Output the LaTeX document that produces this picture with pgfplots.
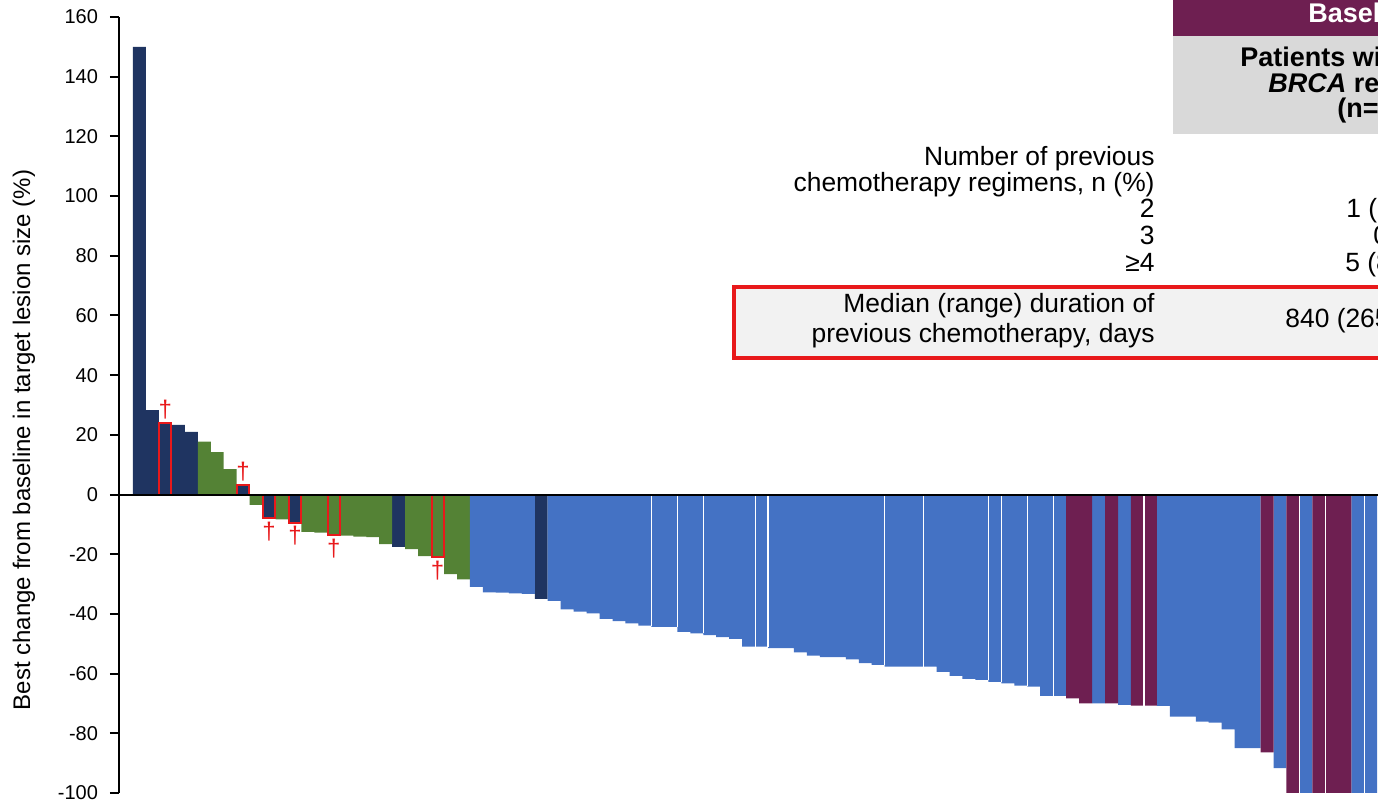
\documentclass[border=0pt]{standalone}
\usepackage{pgfplots}
\pgfplotsset{compat=1.18}
\usepackage{fontspec}
\setmainfont{Liberation Sans}
\definecolor{navy}{HTML}{1F3461}
\definecolor{grn}{HTML}{548235}
\definecolor{blu}{HTML}{4472C4}
\definecolor{pur}{HTML}{6E1F51}
\definecolor{red1}{HTML}{E8191B}
\definecolor{hgray}{HTML}{D9D9D9}
\definecolor{bgray}{HTML}{F2F2F2}
\begin{document}
\begin{tikzpicture}
\begin{axis}[
  scale only axis, width=629.5pt, height=388pt,
  xmin=-0.58, xmax=96.56, ymin=-100, ymax=160,
  axis x line=none, axis y line*=left, xtick=\empty,
  ytick={-100,-80,...,160},
  tick align=outside, major tick length=4.5pt,
  y axis line style={line width=1pt},
  ytick style={line width=1pt, black},
  yticklabel style={font=\fontsize{10}{12}\selectfont, xshift=-2.5pt},
  /pgf/number format/assume math mode=true,
  ylabel={Best change from baseline in target lesion size (\%)},
  every axis y label/.style={at={(axis description cs:-0.0755,0.455)}, rotate=90, anchor=center, font=\fontsize{12}{14}\selectfont},
  every node near coord/.append style={text=red1, font=\fontsize{12}{12}\selectfont, inner sep=1.5pt},
]
% navy
\addplot[ybar, bar width=1, bar shift=0pt, fill=navy, draw=none] coordinates {(1,150) (2,28.3) (4,23.3) (5,21) (21,-17.5) (32,-35)};
% green
\addplot[ybar, bar width=1, bar shift=0pt, fill=grn, draw=none] coordinates {(6,17.7) (7,14.2) (8,8.5) (10,-3.5) (12,-8.3) (14,-12.5) (15,-12.8) (17,-13.8) (18,-14.1) (19,-14.3) (20,-16.6) (22,-18.3) (23,-20.6) (25,-26.7) (26,-28.4)};
% blue
\addplot[ybar, bar width=1, bar shift=0pt, fill=blu, draw=none] coordinates {(27,-30.9) (28,-32.8) (29,-32.9) (30,-33.1) (31,-33.3) (33,-35.6) (34,-38.5) (35,-39.2) (36,-39.8) (37,-41.7) (38,-42.4) (39,-43.2) (40,-43.9) (41,-44.3) (42,-44.3) (43,-46) (44,-46.5) (45,-47.1) (46,-47.8) (47,-48.4) (48,-51.0) (49,-51.0) (50,-51.5) (51,-51.5) (52,-52.9) (53,-54) (54,-54.5) (55,-54.5) (56,-55.2) (57,-56.5) (58,-57.1) (59,-57.7) (60,-57.7) (61,-57.7) (62,-57.7) (63,-59.4) (64,-60.8) (65,-61.8) (66,-62.1) (67,-62.8) (68,-63.3) (69,-64) (70,-64.4) (71,-67.5) (72,-67.5) (75,-70) (77,-70.5) (80,-70.8) (81,-74.4) (82,-74.4) (83,-76.1) (84,-76.4) (85,-78.7) (86,-85) (87,-85) (89,-91.7) (91,-100) (95,-100) (96,-100)};
% purple
\addplot[ybar, bar width=1, bar shift=0pt, fill=pur, draw=none] coordinates {(73,-68.3) (74,-70) (76,-70) (78,-70.7) (79,-70.7) (88,-86.4) (90,-100) (92,-100) (93,-100) (94,-100)};
% outlined (red) bars with dagger
\addplot[ybar, bar width=0.92, bar shift=0pt, fill=navy, draw=red1, line width=1pt, nodes near coords={†}] coordinates {(3,24) (9,3.2) (11,-8) (13,-9.4)};
\addplot[ybar, bar width=0.92, bar shift=0pt, fill=grn, draw=red1, line width=1pt, nodes near coords={†}] coordinates {(16,-13.5) (24,-20.8)};
% thin white separators between some bars
\addplot[ycomb, white, line width=0.6pt, mark=none] coordinates {(40.5,-43.9) (42.5,-44.3) (44.5,-46.5) (48.5,-51) (49.5,-51) (58.5,-57.1) (61.5,-57.7) (66.5,-62.1) (67.5,-62.8) (69.5,-64) (71.5,-67.5) (78.5,-70.7) (90.5,-100) (92.5,-100) (95.5,-100)};
\draw[line width=1pt] (axis cs:-0.58,0) -- (axis cs:96.56,0);
\end{axis}
\begin{scope}[x=0.5pt, y=-0.5pt, shift={(-59.5pt,396.5pt)}]
\clip (0,0) rectangle (1378,803);
\fill[pur] (1173,0) rectangle (1420,36);
\fill[hgray] (1173,36) rectangle (1420,134);
\fill[bgray] (734,287) rectangle (1420,358);
\draw[red1, line width=1.75pt] (734,287) rectangle (1420,358);
\begin{scope}[every node/.style={font=\fontsize{13.2}{13.2}\selectfont, inner sep=0pt}]
\node[anchor=base east] at (1155,166) {Number of previous};
\node[anchor=base east] at (1155,192) {chemotherapy regimens, n (\%)};
\node[anchor=base east] at (1155,218) {2};
\node[anchor=base east] at (1155,245) {3};
\node[anchor=base east] at (1155,272) {≥4};
\node[anchor=base east] at (1155,313) {Median (range) duration of};
\node[anchor=base east] at (1155,343) {previous chemotherapy, days};
\node[anchor=base west] at (1346,218) {1 (17)};
\node[anchor=base west] at (1373,245) {0};
\node[anchor=base west] at (1345,272) {5 (83)};
\node[anchor=base west] at (1285,328) {840 (265};
\node[anchor=base west, text=white, font=\bfseries\fontsize{13.5}{13.5}\selectfont] at (1308,23) {Baseline characteristics};
\node[anchor=base west, font=\bfseries\fontsize{13.5}{13.5}\selectfont] at (1240,67) {Patients with};
\node[anchor=base west, font=\bfseries\fontsize{13.5}{13.5}\selectfont] at (1268,93) {\textit{BRCA} reversion};
\node[anchor=base west, font=\bfseries\fontsize{13.5}{13.5}\selectfont] at (1337,118) {(n=6)};
\end{scope}
\end{scope}
\pgfresetboundingbox
\path[use as bounding box] (-59.5pt,-5pt) rectangle (629.5pt,396.5pt);
\end{tikzpicture}
\end{document}
